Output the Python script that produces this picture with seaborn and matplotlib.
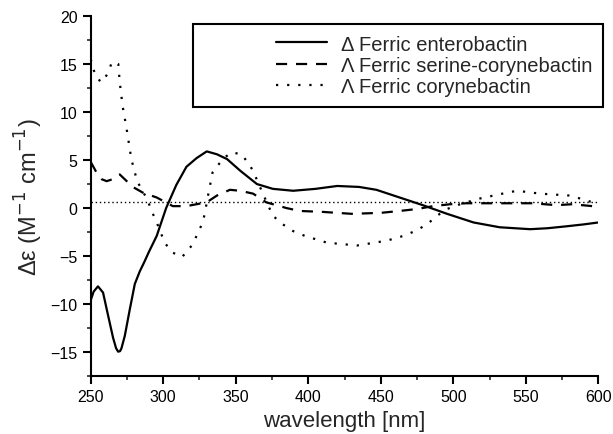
import numpy as np
import pandas as pd
import matplotlib
matplotlib.use("Agg")
import matplotlib.pyplot as plt
import seaborn as sns
from matplotlib.ticker import MultipleLocator
from matplotlib.offsetbox import DrawingArea

# Data
ent_nm = [250, 252, 255, 258.5, 262, 265.4, 267.5, 268.9, 270.2, 271.2, 273.5, 277, 280.4, 283.8, 287, 290, 295.5,
          302, 309, 316, 323, 330, 337, 344, 353, 364.6, 375.6, 389.6, 405, 420, 435, 447, 463, 479, 495.7, 514,
          532, 553, 565, 578, 590, 600]
ent_de = [-9.6, -8.7, -8.15, -8.8, -11.2, -13.5, -14.6, -14.95, -14.9, -14.6, -13.3, -10.5, -7.9, -6.6, -5.6, -4.6,
          -2.9, 0.0, 2.4, 4.3, 5.2, 5.9, 5.6, 5.1, 3.9, 2.5, 2.0, 1.8, 2.0, 2.3, 2.2, 1.9, 1.1, 0.3, -0.6, -1.5,
          -2.0, -2.2, -2.1, -1.9, -1.7, -1.5]

ser_nm = [250, 254, 257.6, 261, 265, 270, 279, 286, 295.5, 306.6, 316, 323, 330, 337, 346, 353, 362, 371, 385, 394,
          410, 430, 450, 463, 475, 486, 498, 509, 530, 555, 571, 582, 596, 600]
ser_de = [4.8, 3.7, 3.0, 2.8, 3.0, 3.5, 2.2, 1.6, 1.1, 0.2, 0.2, 0.4, 0.6, 1.3, 1.9, 1.8, 1.5, 0.6, 0.0, -0.3,
          -0.4, -0.6, -0.5, -0.3, -0.1, 0.2, 0.4, 0.5, 0.5, 0.5, 0.3, 0.4, 0.2, 0.2]

cor_nm = [250, 251.6, 255, 258, 262, 264.6, 269, 270, 272, 274.6, 278, 282, 289, 292, 295.5, 301, 306, 313, 319.7,
          323, 326.6, 328.7, 330, 334, 341, 347, 354, 360, 363, 368.7, 375.6, 382.5, 389.6, 397.7, 412.8, 433.6,
          454, 465.6, 473.6, 481.9, 488.8, 495.7, 504.7, 518.5, 537, 544, 560, 580.6, 589.5, 596, 600]
cor_de = [15.5, 14.5, 13.4, 13.1, 14.1, 15.2, 15.0, 13.1, 10.6, 8.4, 5.1, 2.8, 0.9, -0.3, -1.5, -3.6, -4.6, -5.1, -3.9,
          -2.9, -1.7, -0.6, 0.6, 3.7, 5.1, 5.8, 5.6, 4.4, 3.5, 1.5, -0.8, -1.7, -2.4, -2.9, -3.6, -3.9,
          -3.4, -2.9, -2.4, -1.7, -0.8, -0.1, 0.4, 1.0, 1.6, 1.8, 1.5, 1.3, 0.9, 0.6, 0.5]

baseline_nm = [250, 600]
baseline_de = [0.6, 0.6]

labels = ["\u0394 Ferric enterobactin", "\u039b Ferric serine-corynebactin", "\u039b Ferric corynebactin"]

sns.set_style("ticks")
plt.rcParams['font.family'] = ['Liberation Sans', 'DejaVu Sans']

fig = plt.figure(figsize=(6.13, 4.35), dpi=100)
ax = fig.add_axes([0.148, 0.133, 0.828, 0.828])

sns.lineplot(x=ent_nm, y=ent_de, ax=ax, color="black", lw=1.6, linestyle="-", label=labels[0], sort=False)
sns.lineplot(x=ser_nm, y=ser_de, ax=ax, color="black", lw=1.6, linestyle=(0, (5, 4)), label=labels[1], sort=False)
sns.lineplot(x=cor_nm, y=cor_de, ax=ax, color="black", lw=1.6, linestyle=(0, (1, 4)), label=labels[2], sort=False)
ax.plot(baseline_nm, baseline_de, color="black", lw=1.0, linestyle=(0, (1, 2)))

ax.set_xlim(250, 600)
ax.set_ylim(-17.5, 20)
ax.xaxis.set_major_locator(MultipleLocator(50))
ax.xaxis.set_minor_locator(MultipleLocator(25))
ax.yaxis.set_major_locator(MultipleLocator(5))
ax.yaxis.set_minor_locator(MultipleLocator(2.5))
ax.tick_params(which="major", direction="out", length=6, width=1.5, labelsize=11.5, colors="black")
ax.tick_params(which="minor", direction="out", length=3, width=1.2)
for s in ["top", "right"]:
    ax.spines[s].set_visible(False)
for s in ["left", "bottom"]:
    ax.spines[s].set_linewidth(1.5)
    ax.spines[s].set_color("black")

ax.set_xlabel("wavelength [nm]", fontsize=16)
ax.set_ylabel("\u0394\u03b5 (M$^{-1}$ cm$^{-1}$)", fontsize=17)

# wide legend box with the entries pushed to the right side
leg = ax.legend(loc="upper left", bbox_to_anchor=(0.1815, 0.767, 0.8475, 0.239), mode="expand",
                fontsize=14.5, frameon=True, fancybox=False, handlelength=2.5, borderpad=0.53, labelspacing=0.12,
                handletextpad=0.7, edgecolor="black", framealpha=1)
leg._legend_handle_box._children.insert(0, DrawingArea(0, 0))
leg.get_frame().set_linewidth(1.5)

fig.savefig("out.png", dpi=100)
